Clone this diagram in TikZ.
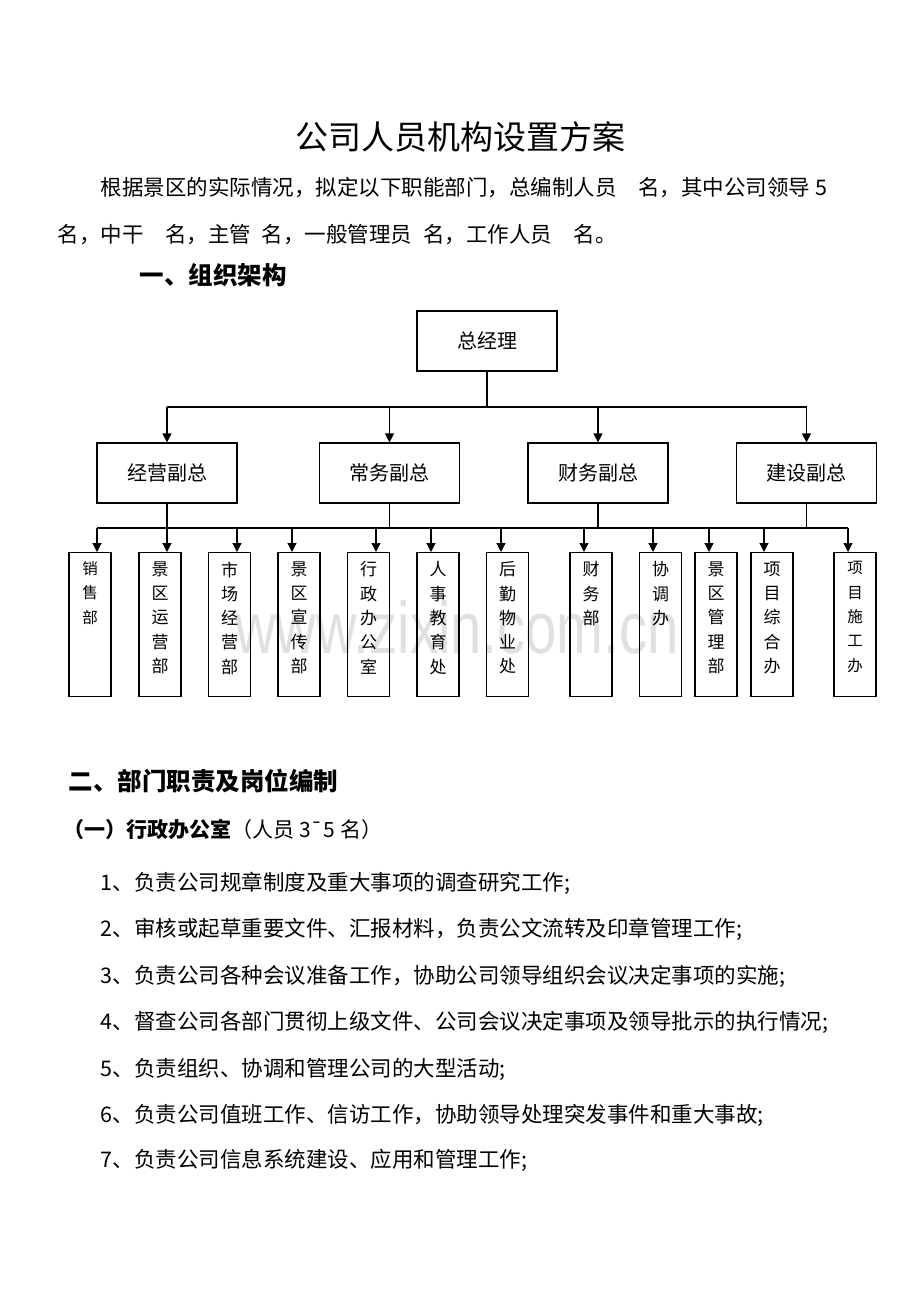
\documentclass[tikz,border=0pt]{standalone}
\usepackage{fontspec}
\setmainfont{Noto Sans CJK SC}
\newfontfamily\markfont{Liberation Sans}
\usetikzlibrary{arrows.meta}

\begin{document}
\begin{tikzpicture}[x=1pt,y=-1pt,line width=1.2pt,
  box/.style={draw,line width=1.2pt,inner sep=0pt},
  vpbox/.style={box,minimum width=140pt,minimum height=60pt,font=\fontsize{20}{24}\selectfont},
  deptbox/.style={box,minimum width=42pt,minimum height=144pt,anchor=north},
  vtext/.style={align=center,inner sep=0pt,anchor=north},
  arr/.style={-{Triangle[length=9pt,width=9pt]}},
  body/.style={anchor=west,inner sep=0pt,font=\fontsize{21.5}{24}\selectfont},
  itemtext/.style={anchor=west,inner sep=0pt,font=\fontsize{21.5}{24}\selectfont},
  head/.style={anchor=west,inner sep=0pt,font=\fontsize{24.5}{28}\selectfont\bfseries}]

% Page
\useasboundingbox (0,0) rectangle (920,1302);
\fill[white] (0,0) rectangle (920,1302);

% Watermark
\node[text=black!12,inner sep=0pt,xscale=0.77,font=\markfont\fontsize{73}{80}\selectfont] (mark) at (457,627) {www.zixin.com.cn};

% Title and intro
\node[inner sep=0pt,font=\fontsize{33}{36}\selectfont] (title) at (460,137) {公司人员机构设置方案};
\node[body] (intro1) at (100,188) {根据景区的实际情况，拟定以下职能部门，总编制人员　名，其中公司领导\hspace{0.25em}5};
\node[body] (intro2) at (57,235) {名，中干　名，主管\hspace{0.5em}名，一般管理员\hspace{0.5em}名，工作人员　名。};
\node[head] (sec1) at (139,275) {一、组织架构};

% General manager and deputies
\node[vpbox] (gm) at (487,341) {总经理};
\foreach \i/\x/\t in {1/167/经营副总,2/389.5/常务副总,3/598/财务副总,4/806.5/建设副总}
  \node[vpbox] (v\i) at (\x,473) {\t};

% Bus lines
\coordinate (bus1) at (0,407);
\coordinate (bus2) at (0,528);

\draw (gm.south) -- (gm.south |- bus1);
\draw (v1.north |- bus1) -- (v4.north |- bus1);
\foreach \i in {1,...,4}{
  \draw[arr] (v\i.north |- bus1) -- (v\i.north);
  \draw (v\i.south) -- (v\i.south |- bus2);
}

% Departments
\foreach \i/\x/\o/\f/\t in {
  1/90/7/15.5/销\\售\\部,
  2/160/7/17/景\\区\\运\\营\\部,
  3/229.5/7.5/17/市\\场\\经\\营\\部,
  4/299/-7/17/景\\区\\宣\\传\\部,
  5/368.5/7.5/17/行\\政\\办\\公\\室,
  6/438/-7/17/人\\事\\教\\育\\处,
  7/507.5/-6.5/17/后\\勤\\物\\业\\处,
  8/591/-7/17/财\\务\\部,
  9/660.5/-7.5/17/协\\调\\办,
  10/716/-7/17/景\\区\\管\\理\\部,
  11/772/-8/17/项\\目\\综\\合\\办,
  12/855/-7/15.5/项\\目\\施\\工\\办}{
  \node[deptbox] (d\i) at (\x,552) {};
  \node[vtext,font=\fontsize{\f}{24.3}\selectfont] (t\i) at ([yshift=-9pt]d\i.north) {\t};
  \draw[arr] ([xshift=\o pt]d\i.north |- bus2) -- ([xshift=\o pt]d\i.north);
}
\draw ([xshift=7pt]d1.north |- bus2) -- ([xshift=-7pt]d12.north |- bus2);

% Duties
\node[head] (sec2) at (68,781) {二、部门职责及岗位编制};
\node[anchor=west,inner sep=0pt,font=\fontsize{21}{24}\selectfont] (sub1) at (63,829) {\textbf{（一）行政办公室}（人员 3¯5 名）};
\foreach \i/\y/\t in {
  1/883/负责公司规章制度及重大事项的调查研究工作;,
  2/929/审核或起草重要文件、汇报材料，负责公文流转及印章管理工作;,
  3/976/负责公司各种会议准备工作，协助公司领导组织会议决定事项的实施;,
  4/1022/督查公司各部门贯彻上级文件、公司会议决定事项及领导批示的执行情况;,
  5/1069/负责组织、协调和管理公司的大型活动;,
  6/1115/负责公司值班工作、信访工作，协助领导处理突发事件和重大事故;,
  7/1160/负责公司信息系统建设、应用和管理工作;}
  \node[itemtext] (item\i) at (100,\y) {\i、\t};

\end{tikzpicture}
\end{document}
